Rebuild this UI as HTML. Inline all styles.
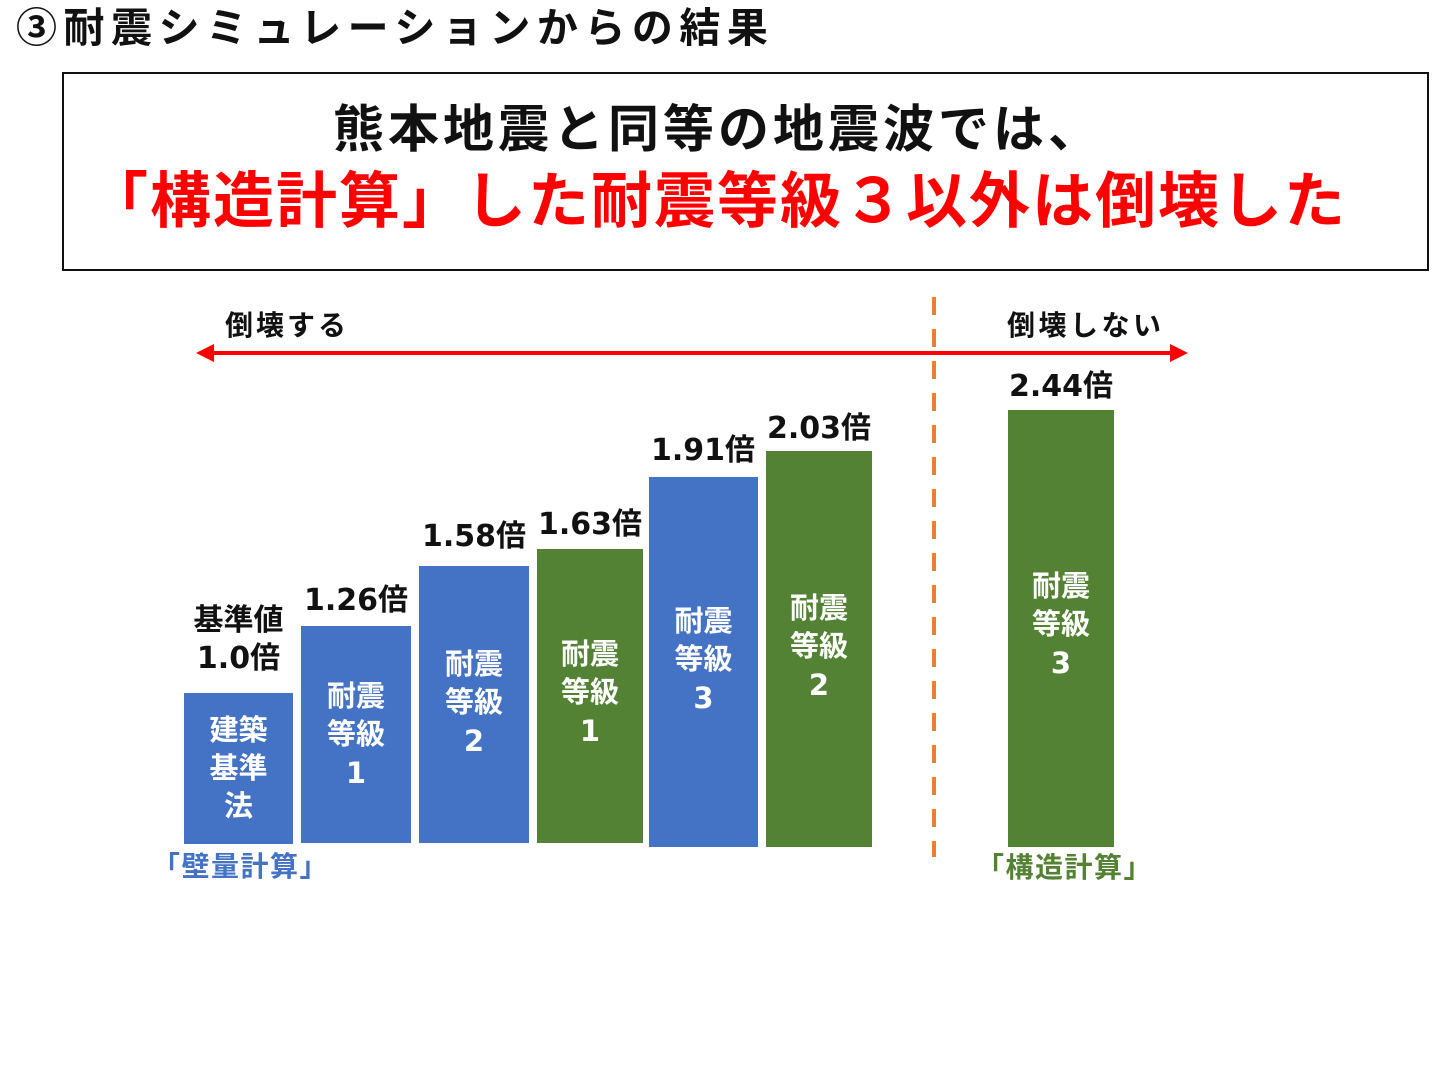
<!DOCTYPE html>
<html><head><meta charset="utf-8"><style>
body{margin:0;width:1440px;height:1072px;background:#fff;position:relative;overflow:hidden;font-family:"Liberation Sans","Noto Sans CJK JP",sans-serif;font-weight:bold}
.a{position:absolute;white-space:nowrap}
.bar{position:absolute;color:#fff;font-size:29px;line-height:38px;text-align:center;display:flex;flex-direction:column;justify-content:center;box-sizing:border-box}
.b{background:#4472C4}.g{background:#548235}
.v{position:absolute;font-size:30px;text-align:center;color:#111;line-height:38px;font-family:"DejaVu Sans","Noto Sans CJK JP",sans-serif}
.d{font-family:"DejaVu Sans",sans-serif}
</style></head><body>
<div class="a" style="left:16px;top:4px;font-size:41px;line-height:48px;color:#111;letter-spacing:6.5px">③耐震シミュレーションからの結果</div>
<div class="a" style="left:62px;top:72px;width:1363px;height:195px;border:2px solid #111"></div>
<div class="a" style="left:333px;top:100px;font-size:51px;line-height:60px;color:#111;letter-spacing:4px">熊本地震と同等の地震波では、</div>
<div class="a" style="left:87px;top:166px;font-size:61px;line-height:70px;color:#f00;letter-spacing:2px">「構造計算」した耐震等級３以外は倒壊した</div>
<div class="a" style="left:225px;top:308px;font-size:28px;line-height:36px;color:#111;letter-spacing:3px">倒壊する</div>
<div class="a" style="left:1007px;top:308px;font-size:28px;line-height:36px;color:#111;letter-spacing:3.5px">倒壊しない</div>
<svg class="a" style="left:0;top:0" width="1440" height="1072">
<line x1="208" y1="353" x2="1176" y2="353" stroke="#f00" stroke-width="4"/>
<polygon points="196,353 214,344 214,362" fill="#f00"/>
<polygon points="1188,353 1170,344 1170,362" fill="#f00"/>
<line x1="934" y1="297" x2="934" y2="857" stroke="#ED7D31" stroke-width="4" stroke-dasharray="18,14"/>
</svg>
<div class="bar b" style="left:184px;top:693px;width:109px;height:151px;padding-top:0">建築<br>基準<br>法</div>
<div class="bar b" style="left:301px;top:626px;width:110px;height:217px;padding-top:0px">耐震<br>等級<br><span class="d">1</span></div>
<div class="bar b" style="left:419px;top:566px;width:110px;height:277px;padding-bottom:4px">耐震<br>等級<br><span class="d">2</span></div>
<div class="bar g" style="left:537px;top:549px;width:106px;height:294px;padding-bottom:6px">耐震<br>等級<br><span class="d">1</span></div>
<div class="bar b" style="left:649px;top:477px;width:109px;height:370px;padding-bottom:4px">耐震<br>等級<br><span class="d">3</span></div>
<div class="bar g" style="left:766px;top:451px;width:106px;height:396px;padding-bottom:4px">耐震<br>等級<br><span class="d">2</span></div>
<div class="bar g" style="left:1008px;top:410px;width:106px;height:437px;padding-bottom:8px">耐震<br>等級<br><span class="d">3</span></div>
<div class="v" style="left:170px;width:137px;top:602px">基準値<br>1.0倍</div>
<div class="v" style="left:286px;width:140px;top:582px">1.26倍</div>
<div class="v" style="left:404px;width:140px;top:518px">1.58倍</div>
<div class="v" style="left:520px;width:140px;top:506px">1.63倍</div>
<div class="v" style="left:633px;width:140px;top:432px">1.91倍</div>
<div class="v" style="left:749px;width:140px;top:410px">2.03倍</div>
<div class="v" style="left:991px;width:140px;top:368px">2.44倍</div>
<div class="a" style="left:152px;top:850px;font-size:28px;line-height:34px;color:#4472C4;letter-spacing:1.5px">「壁量計算」</div>
<div class="a" style="left:976px;top:851px;font-size:28px;line-height:34px;color:#548235;letter-spacing:1.5px">「構造計算」</div>
</body></html>
